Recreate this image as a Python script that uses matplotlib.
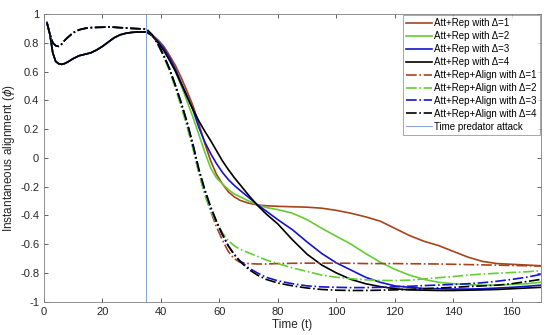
import numpy as np
import matplotlib
matplotlib.use("Agg")
import matplotlib.pyplot as plt

plt.rcParams['font.family'] = ['Liberation Sans', 'DejaVu Sans']
plt.rcParams['axes.unicode_minus'] = False

# time before the predator attack (shared by all runs of a model)
t_pre = [1, 2, 3, 4, 5, 6, 7, 8, 10, 12, 14, 16, 18, 20, 22, 24, 26, 28, 30, 32, 35]
pre_rep = [0.94, 0.86, 0.73, 0.67, 0.655, 0.65, 0.655, 0.665, 0.69, 0.71, 0.72,
           0.73, 0.75, 0.775, 0.805, 0.835, 0.855, 0.866, 0.872, 0.875, 0.875]
pre_align = [0.94, 0.86, 0.80, 0.78, 0.775, 0.79, 0.815, 0.835, 0.87, 0.89, 0.90,
             0.905, 0.907, 0.908, 0.91, 0.908, 0.905, 0.903, 0.90, 0.898, 0.895]

# time after the attack
t_post = [37, 39, 41, 43, 45, 47, 49, 51, 53, 55, 57, 59, 61, 63, 65, 67, 70, 73,
          76, 80, 85, 90, 95, 100, 105, 110, 115, 120, 125, 130, 135, 140, 145,
          150, 155, 160, 165, 170]

rep_d1 = [0.855, 0.82, 0.775, 0.71, 0.64, 0.555, 0.46, 0.36, 0.235, 0.10, -0.02,
          -0.115, -0.18, -0.235, -0.27, -0.295, -0.315, -0.327, -0.333, -0.337,
          -0.34, -0.343, -0.35, -0.365, -0.385, -0.41, -0.44, -0.49, -0.54, -0.58,
          -0.61, -0.65, -0.69, -0.72, -0.735, -0.74, -0.745, -0.75]
rep_d2 = [0.85, 0.81, 0.755, 0.685, 0.60, 0.50, 0.39, 0.28, 0.16, 0.04, -0.07,
          -0.14, -0.18, -0.22, -0.25, -0.27, -0.30, -0.325, -0.345, -0.36, -0.385,
          -0.43, -0.49, -0.545, -0.60, -0.665, -0.725, -0.775, -0.815, -0.845,
          -0.865, -0.875, -0.882, -0.885, -0.885, -0.88, -0.875, -0.865]
rep_d3 = [0.85, 0.81, 0.76, 0.695, 0.615, 0.52, 0.43, 0.33, 0.21, 0.11, 0.03,
          -0.04, -0.10, -0.15, -0.19, -0.225, -0.275, -0.325, -0.37, -0.43, -0.50,
          -0.585, -0.665, -0.73, -0.78, -0.83, -0.865, -0.89, -0.90, -0.908,
          -0.91, -0.912, -0.912, -0.91, -0.905, -0.90, -0.893, -0.885]
rep_d4 = [0.85, 0.80, 0.745, 0.675, 0.60, 0.51, 0.42, 0.335, 0.255, 0.185, 0.12,
          0.05, -0.02, -0.08, -0.135, -0.185, -0.26, -0.33, -0.39, -0.46, -0.57,
          -0.67, -0.745, -0.80, -0.845, -0.875, -0.895, -0.91, -0.918, -0.92,
          -0.922, -0.922, -0.92, -0.918, -0.915, -0.91, -0.905, -0.90]

align_d1 = [0.855, 0.79, 0.71, 0.615, 0.50, 0.37, 0.23, 0.07, -0.10, -0.24, -0.37,
            -0.48, -0.57, -0.65, -0.70, -0.725, -0.735, -0.738, -0.738, -0.735,
            -0.733, -0.732, -0.732, -0.732, -0.733, -0.735, -0.735, -0.735, -0.736,
            -0.737, -0.738, -0.74, -0.742, -0.744, -0.746, -0.748, -0.75, -0.752]
align_d2 = [0.855, 0.785, 0.70, 0.60, 0.48, 0.35, 0.21, 0.06, -0.11, -0.26, -0.37,
            -0.45, -0.52, -0.575, -0.61, -0.635, -0.66, -0.685, -0.71, -0.735,
            -0.765, -0.79, -0.815, -0.83, -0.84, -0.848, -0.852, -0.853, -0.85,
            -0.842, -0.833, -0.825, -0.815, -0.808, -0.802, -0.797, -0.792, -0.785]
align_d3 = [0.855, 0.79, 0.71, 0.615, 0.50, 0.375, 0.24, 0.085, -0.085, -0.225,
            -0.345, -0.445, -0.535, -0.61, -0.67, -0.715, -0.765, -0.80, -0.83,
            -0.855, -0.875, -0.89, -0.897, -0.90, -0.902, -0.902, -0.90, -0.897,
            -0.893, -0.888, -0.884, -0.88, -0.875, -0.868, -0.858, -0.845, -0.83, -0.81]
align_d4 = [0.855, 0.79, 0.71, 0.615, 0.50, 0.38, 0.245, 0.09, -0.08, -0.22, -0.34,
            -0.44, -0.53, -0.61, -0.67, -0.72, -0.775, -0.815, -0.845, -0.87, -0.89,
            -0.905, -0.915, -0.92, -0.922, -0.922, -0.92, -0.918, -0.914, -0.91,
            -0.905, -0.90, -0.895, -0.89, -0.885, -0.875, -0.86, -0.845]

t_attack = 35
deltas = [1, 2, 3, 4]
colors = ['#a5441c', '#66cc33', '#1414cc', '#000000']
x_ticks = [0, 20, 40, 60, 80, 100, 120, 140, 160]
y_ticks = [-1, -0.8, -0.6, -0.4, -0.2, 0, 0.2, 0.4, 0.6, 0.8, 1]

fig = plt.figure(figsize=(5.5, 3.35), dpi=100)
ax = fig.add_axes([0.08, 0.0994, 0.9036, 0.8588])

t_all = t_pre + t_post
for d, c, post in zip(deltas, colors, [rep_d1, rep_d2, rep_d3, rep_d4]):
    ax.plot(t_all, pre_rep + post, color=c, lw=1.2, label=f'Att+Rep with \u0394={d}')
for d, c, post in zip(deltas, colors, [align_d1, align_d2, align_d3, align_d4]):
    ax.plot(t_all, pre_align + post, color=c, lw=1.2, ls='-.',
            label=f'Att+Rep+Align with \u0394={d}')
ax.axvline(t_attack, color='#8aa6d8', lw=0.8, label='Time predator attack')

ax.set_xlim(0, 170)
ax.set_ylim(-1, 1)
ax.set_xticks(x_ticks)
ax.set_yticks(y_ticks)
ax.set_yticklabels([f'{v:g}' for v in y_ticks])
ax.tick_params(direction='in', length=3, labelsize=8, colors='#262626',
               top=True, right=True, width=0.5)
for s in ax.spines.values():
    s.set_color('#808080')
    s.set_linewidth(0.6)
ax.set_xlabel('Time (t)', fontsize=8.5, color='#262626', labelpad=2)
ax.set_ylabel(r'Instantaneous alignment ($\phi$)', fontsize=8.5, color='#262626', labelpad=2)

leg = ax.legend(loc='upper right', fontsize=7, frameon=True, fancybox=False,
                borderpad=0.3, labelspacing=0.3, handlelength=2.6, handletextpad=0.25,
                borderaxespad=0.15)
leg.get_frame().set_edgecolor('#808080')
leg.get_frame().set_linewidth(0.6)

fig.savefig('out.png', dpi=100)
